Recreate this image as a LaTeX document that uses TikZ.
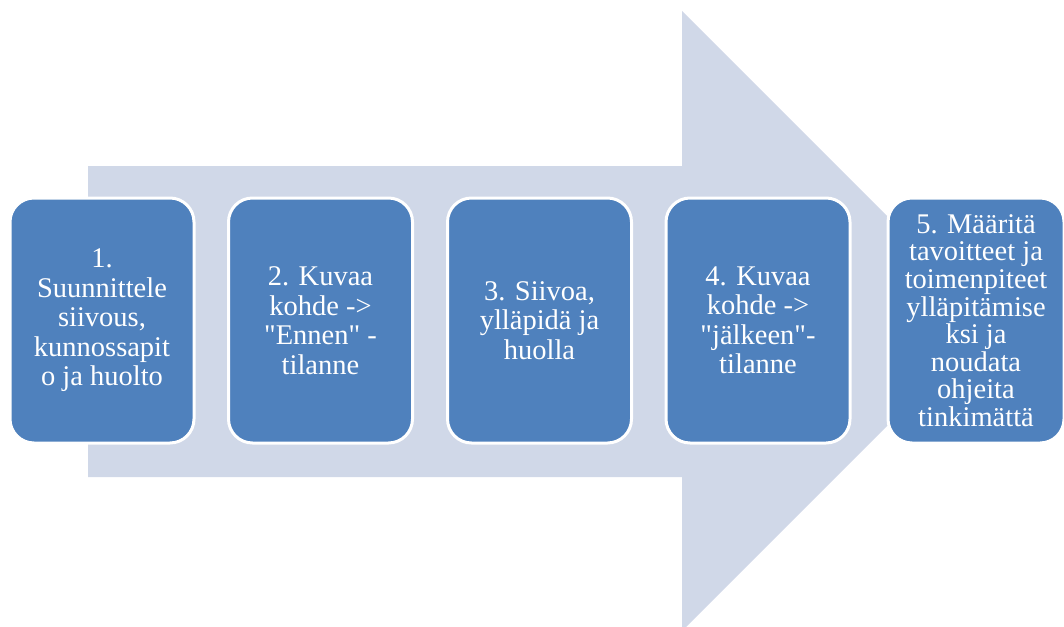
\documentclass[tikz,border=0pt]{standalone}
\usepackage{fontspec}
\setmainfont{Liberation Serif}[Ligatures=TeXOff]
\definecolor{arrowbg}{HTML}{D0D8E8}
\definecolor{boxblue}{HTML}{4F81BD}
\begin{document}
\begin{tikzpicture}[x=1pt,y=-1pt,
  stepbox/.style={rounded corners=24pt, fill=boxblue, draw=white, line width=3pt,
    minimum width=184pt, minimum height=245pt, text=white, align=center,
    inner sep=0pt, font=\fontsize{28.5}{29.5}\selectfont},
  lastbox/.style={stepbox, minimum width=176pt, font=\fontsize{28.5}{27.6}\selectfont}]
\useasboundingbox (0,0) rectangle (1064,626);
\begin{scope}
\clip (0,0) rectangle (1064,626);
\fill[arrowbg] (88,166) -- (682,166) -- (682,11) -- (992,321) -- (682,631) -- (682,477) -- (88,477) -- cycle;
\end{scope}
\node[stepbox] (s1) at (102,320.5) {1.\\Suunnittele\\siivous,\\kunnossapit\\o ja huolto};
\node[stepbox] (s2) at (320.5,320.5) {2. Kuvaa\\kohde ->\\"Ennen" -\\tilanne};
\node[stepbox] (s3) at (539.5,320.5) {3. Siivoa,\\ylläpidä ja\\huolla};
\node[stepbox] (s4) at (758,320.5) {4. Kuvaa\\kohde ->\\"jälkeen"-\\tilanne};
\node[lastbox] (s5) at (976,320.5) {5. Määritä\\tavoitteet ja\\toimenpiteet\\ylläpitämise\\ksi ja\\noudata\\ohjeita\\tinkimättä};
\end{tikzpicture}
\end{document}
